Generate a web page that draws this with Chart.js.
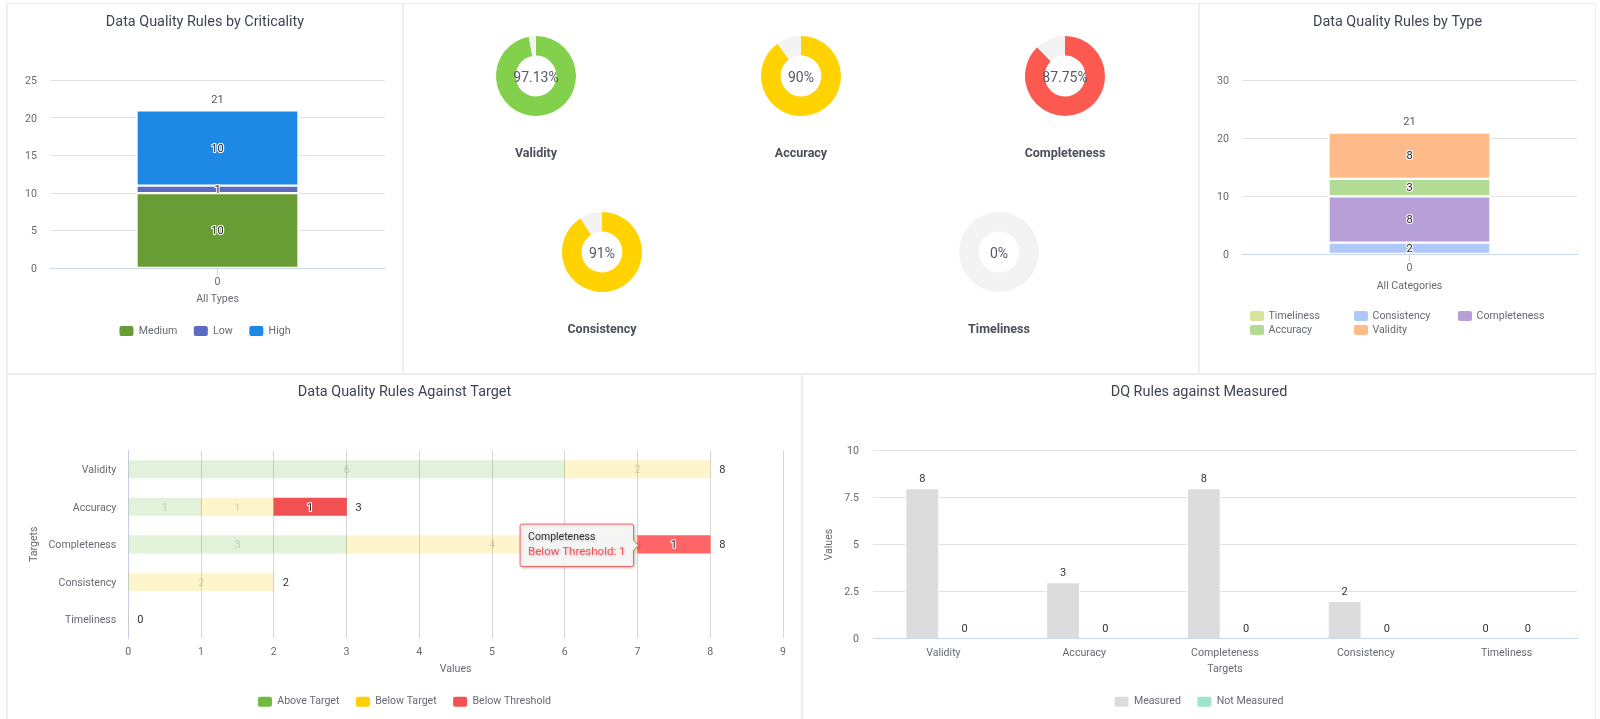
<!DOCTYPE html>
<html><head><meta charset="utf-8">
<style>
html,body{margin:0;padding:0;background:#fff;width:1600px;height:719px;overflow:hidden}
canvas{position:absolute}
.line{position:absolute;background:#eeeeee}
</style>
<script src="https://cdn.jsdelivr.net/npm/chart.js@4"></script>
</head><body>
<div class="line" style="left:6px;top:3px;width:1590px;height:1px"></div>
<div class="line" style="left:6px;top:373px;width:1590px;height:2px"></div>
<div class="line" style="left:6px;top:3px;width:2px;height:716px"></div>
<div class="line" style="left:402px;top:3px;width:2px;height:370px"></div>
<div class="line" style="left:1198px;top:3px;width:2px;height:370px"></div>
<div class="line" style="left:801px;top:373px;width:2px;height:346px"></div>
<div class="line" style="left:1595px;top:3px;width:1px;height:716px"></div>
<script>
// ---- data ----
const criticalityCategories = ['0'];
const criticalityNames = ['Medium', 'Low', 'High'];
const criticalityMedium = [10];
const criticalityLow = [1];
const criticalityHigh = [10];

const typeCategories = ['0'];
const typeNames = ['Timeliness', 'Consistency', 'Completeness', 'Accuracy', 'Validity'];
const typeTimeliness = [0];
const typeConsistency = [2];
const typeCompleteness = [8];
const typeAccuracy = [3];
const typeValidity = [8];

const donutNames = ['Validity', 'Accuracy', 'Completeness', 'Consistency', 'Timeliness'];
const donutScores = [97.13, 90, 87.75, 91, 0];

const targetCategories = ['Validity', 'Accuracy', 'Completeness', 'Consistency', 'Timeliness'];
const aboveTarget = [6, 1, 3, 0, 0];
const belowTarget = [2, 1, 4, 2, 0];
const belowThreshold = [0, 1, 1, 0, 0];

const measuredCategories = ['Validity', 'Accuracy', 'Completeness', 'Consistency', 'Timeliness'];
const measured = [8, 3, 8, 2, 0];
const notMeasured = [0, 0, 0, 0, 0];

// ---- shared styling ----
const FONT = 'Roboto';
const TICK = '#666a70';
const AXIS = '#ccd6eb';
const GRID = '#e2e2e2';
const TICK_SIZE = 10.6;
Chart.defaults.font.family = FONT;
Chart.defaults.font.size = TICK_SIZE;
Chart.defaults.color = TICK;
Chart.defaults.animation = false;
Chart.defaults.devicePixelRatio = 1;

function makeCanvas(x, y, w, h) {
  const c = document.createElement('canvas');
  c.width = w; c.height = h;
  c.style.left = x + 'px'; c.style.top = y + 'px';
  c.style.width = w + 'px'; c.style.height = h + 'px';
  document.body.appendChild(c);
  return c;
}
function drawText(ctx, text, x, y, color, halo) {
  ctx.font = '11px ' + FONT;
  ctx.textAlign = 'center';
  ctx.textBaseline = 'middle';
  if (halo) { ctx.lineWidth = 2.2; ctx.lineJoin = 'round'; ctx.strokeStyle = halo; ctx.strokeText(text, x, y + 1); }
  ctx.fillStyle = color;
  ctx.fillText(text, x, y + 1);
}
const valueLabels = {
  id: 'valueLabels',
  afterDatasetsDraw(chart, args, o) {
    const ctx = chart.ctx;
    const horizontal = chart.options.indexAxis === 'y';
    ctx.save();
    chart.data.datasets.forEach((ds, i) => {
      const meta = chart.getDatasetMeta(i);
      meta.data.forEach((el, j) => {
        const v = ds.data[j];
        if (o.above) { drawText(ctx, String(v), el.x, el.y - 10, '#333', null); return; }
        if (!v) return;
        const p = el.getCenterPoint();
        drawText(ctx, String(v), p.x, p.y, ds.labelColor || '#222', ds.labelHalo === undefined ? '#fff' : ds.labelHalo);
      });
    });
    if (o.totals) {
      chart.data.labels.forEach((l, j) => {
        const sum = chart.data.datasets.reduce((s, d) => s + d.data[j], 0);
        if (horizontal) {
          drawText(ctx, String(sum), chart.scales.x.getPixelForValue(sum) + 12, chart.scales.y.getPixelForValue(j), '#333', '#fff');
        } else {
          drawText(ctx, String(sum), chart.scales.x.getPixelForValue(j), chart.scales.y.getPixelForValue(sum) - 11, '#555', '#fff');
        }
      });
    }
    ctx.restore();
  }
};
// The layout padding on the right keeps the plot inside its panel; title and legend stay centred on the panel.
const panelCentre = {
  id: 'panelCentre',
  afterLayout(chart, args, o) {
    if (chart.titleBlock) chart.titleBlock.right += o.right;
    if (chart.legend && chart.legend.options.display) {
      chart.legend.right += o.right;
      chart.legend.top += o.legendY || 0;
      chart.legend.bottom += o.legendY || 0;
    }
  }
};
const tooltipShadow = {
  id: 'tooltipShadow',
  beforeTooltipDraw(chart) {
    const c = chart.ctx; c.save();
    c.shadowColor = 'rgba(0,0,0,.22)'; c.shadowBlur = 3; c.shadowOffsetX = 1; c.shadowOffsetY = 1;
  },
  afterTooltipDraw(chart) { chart.ctx.restore(); }
};
const columnLegend = {
  id: 'columnLegend',
  afterDraw(chart, args, o) {
    const ctx = chart.ctx;
    ctx.save();
    chart.data.datasets.forEach((ds, i) => {
      const col = i % o.columns, row = Math.floor(i / o.columns);
      const x = o.left + col * o.columnWidth, y = o.top + row * o.rowHeight;
      ctx.fillStyle = ds.legendColor;
      ctx.beginPath(); ctx.roundRect(x, y - 5, 14, 10, 2); ctx.fill();
      ctx.fillStyle = TICK; ctx.font = TICK_SIZE + 'px ' + FONT;
      ctx.textAlign = 'left'; ctx.textBaseline = 'middle';
      ctx.fillText(ds.label, x + 18.5, y + 0.5);
    });
    ctx.restore();
  }
};
const centerText = {
  id: 'centerText',
  afterDraw(chart, args, o) {
    const a = chart.chartArea, c = chart.ctx;
    c.save();
    c.font = '400 14px ' + FONT; c.fillStyle = '#555a63';
    c.textAlign = 'center'; c.textBaseline = 'middle';
    c.fillText(o.text, (a.left + a.right) / 2, (a.top + a.bottom) / 2 + 2);
    c.restore();
  }
};
function legendOpts() {
  return {
    position: 'bottom',
    labels: {
      boxWidth: 14, boxHeight: 10, padding: 16.5, color: TICK, font: { size: TICK_SIZE }, useBorderRadius: true, borderRadius: 2,
      generateLabels: ch => ch.data.datasets.map((d, i) => ({
        text: d.label, fillStyle: d.legendColor, strokeStyle: 'rgba(0,0,0,0)', fontColor: TICK, lineWidth: 0, borderRadius: 2, datasetIndex: i
      }))
    }
  };
}
function titleOpts(text, top, bottom) {
  return { display: true, text, color: '#3e4452', font: { size: 14.4, weight: '400', lineHeight: 1 }, padding: { top, bottom } };
}
function stackedColumn(box, title, cats, datasets, xTitle, yMax, yStep, plot, legend, extra) {
  const c = makeCanvas(box[0], box[1], box[2], box[3]);
  const padRight = box[0] + box[2] - plot.right;
  return new Chart(c, {
    type: 'bar',
    data: { labels: cats, datasets },
    plugins: [valueLabels, panelCentre].concat(extra || []),
    options: {
      responsive: false,
      layout: { padding: { right: padRight, bottom: plot.padBottom } },
      plugins: {
        title: titleOpts(title, plot.titleTop, plot.titleBottom),
        legend,
        tooltip: { enabled: false },
        valueLabels: { totals: true },
        panelCentre: { right: padRight, legendY: plot.legendY },
        columnLegend: plot.columnLegend
      },
      scales: {
        x: {
          stacked: true,
          afterFit: s => { s.height = plot.xHeight; },
          border: { color: AXIS },
          grid: { offset: false, drawOnChartArea: false, drawTicks: true, tickLength: 7, color: AXIS },
          ticks: { padding: 0.5, color: TICK, font: { size: TICK_SIZE } },
          title: { display: true, text: xTitle, color: TICK, padding: 0, font: { size: TICK_SIZE } }
        },
        y: {
          stacked: true, min: 0, max: yMax,
          afterFit: s => { s.width = plot.left - box[0]; },
          border: { display: false },
          grid: { color: GRID, drawTicks: false },
          ticks: { stepSize: yStep, padding: 13, labelOffset: 1, color: TICK, font: { size: TICK_SIZE } }
        }
      }
    }
  });
}
const cell = { borderColor: '#fff', borderWidth: 1.5, borderSkipped: false, barThickness: 162 };

// ---- panel 1 ----
stackedColumn([8, 4, 394, 369], 'Data Quality Rules by Criticality', criticalityCategories, [
  { label: criticalityNames[0], data: criticalityMedium, backgroundColor: '#689d36', legendColor: '#689d36', ...cell },
  { label: criticalityNames[1], data: criticalityLow, backgroundColor: '#5c6bc0', legendColor: '#5c6bc0', ...cell },
  { label: criticalityNames[2], data: criticalityHigh, backgroundColor: '#1e88e5', legendColor: '#1e88e5', ...cell }
], 'All Types', 25, 5,
  { left: 50, right: 385, titleTop: 11.5, titleBottom: 50.4, xHeight: 37.2, padBottom: 30.3, legendY: 3.5 },
  legendOpts());

// ---- panel 3 ----
stackedColumn([1200, 4, 395, 369], 'Data Quality Rules by Type', typeCategories, [
  { label: typeNames[0], data: typeTimeliness, backgroundColor: '#d9e29b', legendColor: '#d9e29b', ...cell },
  { label: typeNames[1], data: typeConsistency, backgroundColor: '#aec8fa', legendColor: '#aec8fa', ...cell },
  { label: typeNames[2], data: typeCompleteness, backgroundColor: '#b7a0d8', legendColor: '#b7a0d8', ...cell },
  { label: typeNames[3], data: typeAccuracy, backgroundColor: '#b2db96', legendColor: '#b2db96', ...cell },
  { label: typeNames[4], data: typeValidity, backgroundColor: '#ffba8a', legendColor: '#ffba8a', ...cell }
], 'All Categories', 30, 10,
  { left: 1242, right: 1577, titleTop: 11.5, titleBottom: 50.4, xHeight: 38, padBottom: 80.7,
    columnLegend: { left: 1250 - 1200, top: 316 - 4, columns: 3, columnWidth: 104, rowHeight: 14 } },
  { display: false }, [columnLegend]);

// ---- donuts ----
const donutColors = ['#82d04b', '#ffd200', '#fc5a50', '#ffd200', '#f3f3f3'];
const donutCentres = [[536, 76], [801, 76], [1065, 76], [602, 252], [999, 252]];
donutNames.forEach((name, i) => {
  const [cx, cy] = donutCentres[i];
  const c = makeCanvas(cx - 80, cy - 40, 160, 125);
  new Chart(c, {
    type: 'doughnut',
    data: { labels: [name, 'Remaining'], datasets: [{ data: [donutScores[i], 100 - donutScores[i]], backgroundColor: [donutColors[i], '#f3f3f3'], borderWidth: 0 }] },
    plugins: [centerText],
    options: {
      responsive: false, cutout: '51%',
      plugins: {
        legend: { display: false }, tooltip: { enabled: false },
        title: { display: true, position: 'bottom', text: name, color: '#4a4f58', font: { size: 12.5, weight: '700', lineHeight: 1 }, padding: { top: 32, bottom: 0.5 } },
        centerText: { text: donutScores[i] + '%' }
      }
    }
  });
});

// ---- panel 4 ----
const dimLabel = 'rgba(120,120,120,.32)';
const clear = 'rgba(0,0,0,0)';
const targetChart = new Chart(makeCanvas(8, 375, 793, 344), {
  type: 'bar',
  data: {
    labels: targetCategories,
    datasets: [
      { label: 'Above Target', data: aboveTarget, backgroundColor: 'rgba(111,187,63,.2)', legendColor: '#6fbb3f', labelColor: dimLabel, labelHalo: null, barThickness: 17.5 },
      { label: 'Below Target', data: belowTarget, backgroundColor: 'rgba(255,207,0,.2)', legendColor: '#ffcf00', labelColor: dimLabel, labelHalo: null, barThickness: 17.5 },
      { label: 'Below Threshold', data: belowThreshold, backgroundColor: [clear, '#f15153', '#ff6466', clear, clear], legendColor: '#f15153', barThickness: 17.5 }
    ]
  },
  plugins: [valueLabels, panelCentre, tooltipShadow],
  options: {
    responsive: false, indexAxis: 'y',
    layout: { padding: { right: 801 - 783, bottom: 5.9 } },
    plugins: {
      title: titleOpts('Data Quality Rules Against Target', 10.5, 50.6),
      panelCentre: { right: 18, legendY: 4 },
      legend: legendOpts(),
      valueLabels: { totals: true },
      tooltip: {
        enabled: true, position: 'barStart', xAlign: 'right', yAlign: 'center',
        backgroundColor: 'rgba(247,247,247,.97)', borderColor: '#f0686a', borderWidth: 1, cornerRadius: 2,
        displayColors: false, caretSize: 5, caretPadding: 0, padding: { left: 8, right: 8, top: 7, bottom: 7 },
        titleColor: '#333', titleFont: { size: 10.5, weight: '400' }, titleMarginBottom: 2,
        bodyColor: '#f4505a', bodyFont: { size: 11.5 }
      }
    },
    scales: {
      x: {
        stacked: true, min: 0, max: 9,
        afterFit: s => { s.height = 37.9; },
        border: { display: false },
        grid: { color: '#d6d6d6', drawTicks: false },
        ticks: { stepSize: 1, padding: 8, color: TICK, font: { size: TICK_SIZE } },
        title: { display: true, text: 'Values', color: TICK, padding: 0, font: { size: TICK_SIZE } }
      },
      y: {
        stacked: true,
        afterFit: s => { s.width = 128.3 - 8; },
        border: { color: '#c5d0e6' },
        grid: { drawOnChartArea: false, drawTicks: false },
        ticks: { padding: 12, labelOffset: 1.5, color: TICK, font: { size: TICK_SIZE } },
        title: { display: true, text: 'Targets', color: TICK, padding: { top: 20.4, bottom: 0 }, font: { size: TICK_SIZE } }
      }
    }
  }
});
Chart.Tooltip.positioners.barStart = function (items) {
  if (!items.length) return false;
  const el = items[0].element;
  return { x: el.base + 1, y: el.y + 1 };
};
targetChart.tooltip.setActiveElements([{ datasetIndex: 2, index: 2 }], { x: 640, y: 170 });
targetChart.update();

// ---- panel 5 ----
new Chart(makeCanvas(803, 375, 792, 344), {
  type: 'bar',
  data: {
    labels: measuredCategories,
    datasets: [
      { label: 'Measured', data: measured, backgroundColor: '#dcdcdc', legendColor: '#dcdcdc', borderColor: '#fff', borderWidth: 1, borderSkipped: 'bottom' },
      { label: 'Not Measured', data: notMeasured, backgroundColor: clear, legendColor: '#9fe5cb' }
    ]
  },
  plugins: [valueLabels, panelCentre],
  options: {
    responsive: false,
    datasets: { bar: { barPercentage: 0.8, categoryPercentage: 0.6 } },
    layout: { padding: { right: 1595 - 1577, bottom: 5.9 } },
    plugins: {
      title: titleOpts('DQ Rules against Measured', 10.5, 50.6),
      panelCentre: { right: 18, legendY: 4 },
      legend: legendOpts(),
      tooltip: { enabled: false },
      valueLabels: { above: true }
    },
    scales: {
      x: {
        afterFit: s => { s.height = 37.3; },
        border: { color: AXIS },
        grid: { display: false, drawTicks: false },
        ticks: { padding: 8, color: TICK, font: { size: TICK_SIZE } },
        title: { display: true, text: 'Targets', color: TICK, padding: 0, font: { size: TICK_SIZE } }
      },
      y: {
        min: 0, max: 10,
        afterFit: s => { s.width = 873 - 803; },
        border: { display: false },
        grid: { color: GRID, drawTicks: false },
        ticks: { stepSize: 2.5, padding: 14, labelOffset: 1, color: TICK, font: { size: TICK_SIZE }, callback: v => String(v) },
        title: { display: true, text: 'Values', color: TICK, padding: { top: 20.4, bottom: 0 }, font: { size: TICK_SIZE } }
      }
    }
  }
});
</script>
</body></html>
